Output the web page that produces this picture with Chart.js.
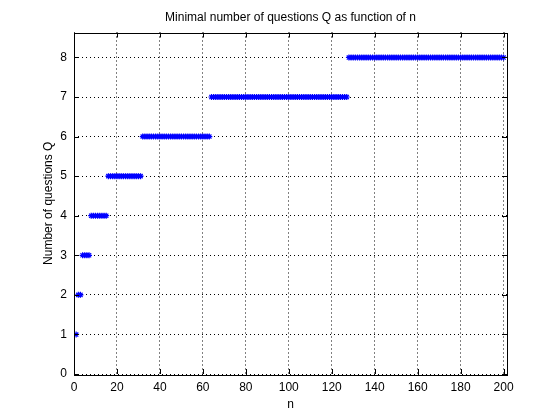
<!DOCTYPE html>
<html>
<head>
<meta charset="utf-8">
<script src="https://cdn.jsdelivr.net/npm/chart.js@4.4.1/dist/chart.umd.min.js"></script>
<style>
  html, body { margin: 0; padding: 0; background: #fff; }
  #chart { display: block; }
</style>
</head>
<body>
<canvas id="chart" width="560" height="420"></canvas>
<script>
// Q for n = 1..200
const qValues = [
  1,
  2, 2,
  3, 3, 3, 3,
  4, 4, 4, 4, 4, 4, 4, 4,
  5, 5, 5, 5, 5, 5, 5, 5, 5, 5, 5, 5, 5, 5, 5, 5,
  6, 6, 6, 6, 6, 6, 6, 6, 6, 6, 6, 6, 6, 6, 6, 6,
  6, 6, 6, 6, 6, 6, 6, 6, 6, 6, 6, 6, 6, 6, 6, 6,
  7, 7, 7, 7, 7, 7, 7, 7, 7, 7, 7, 7, 7, 7, 7, 7,
  7, 7, 7, 7, 7, 7, 7, 7, 7, 7, 7, 7, 7, 7, 7, 7,
  7, 7, 7, 7, 7, 7, 7, 7, 7, 7, 7, 7, 7, 7, 7, 7,
  7, 7, 7, 7, 7, 7, 7, 7, 7, 7, 7, 7, 7, 7, 7, 7,
  8, 8, 8, 8, 8, 8, 8, 8, 8, 8, 8, 8, 8, 8, 8, 8,
  8, 8, 8, 8, 8, 8, 8, 8, 8, 8, 8, 8, 8, 8, 8, 8,
  8, 8, 8, 8, 8, 8, 8, 8, 8, 8, 8, 8, 8, 8, 8, 8,
  8, 8, 8, 8, 8, 8, 8, 8, 8, 8, 8, 8, 8, 8, 8, 8,
  8, 8, 8, 8, 8, 8, 8, 8, 8
];
const nValues = qValues.map((q, i) => i + 1);

const xTicks = [0, 20, 40, 60, 80, 100, 120, 140, 160, 180, 200];
const yTicks = [0, 1, 2, 3, 4, 5, 6, 7, 8];

const font = "'Liberation Sans', Arial, Helvetica, sans-serif";

// matlab style box with inward ticks on all four sides
const boxPlugin = {
  id: 'box',
  afterDraw(chart) {
    const { ctx, chartArea: a, scales } = chart;
    ctx.save();
    ctx.strokeStyle = '#000';
    ctx.lineWidth = 1;
    ctx.beginPath();
    xTicks.forEach(v => {
      const px = Math.round(scales.x.getPixelForValue(v)) + 0.5;
      ctx.moveTo(px, a.bottom); ctx.lineTo(px, a.bottom - 5);
      ctx.moveTo(px, a.top); ctx.lineTo(px, a.top + 5);
    });
    yTicks.forEach(v => {
      const py = Math.round(scales.y.getPixelForValue(v)) + 0.5;
      ctx.moveTo(a.left, py); ctx.lineTo(a.left + 5, py);
      ctx.moveTo(a.right, py); ctx.lineTo(a.right - 5, py);
    });
    ctx.stroke();
    ctx.strokeRect(Math.round(a.left) + 0.5, Math.round(a.top) + 0.5,
      Math.round(a.right - a.left), Math.round(a.bottom - a.top));
    ctx.restore();
  }
};

new Chart(document.getElementById('chart'), {
  type: 'scatter',
  data: {
    datasets: [{
      label: 'Q',
      data: nValues.map((n, i) => ({ x: n, y: qValues[i] })),
      pointStyle: 'star',
      pointRadius: 3,
      borderWidth: 1.2,
      borderColor: '#0000ff',
      backgroundColor: '#0000ff',
      showLine: false
    }]
  },
  options: {
    responsive: false,
    animation: false,
    events: [],
    layout: { padding: { left: 0, right: 53, top: 0, bottom: 0 } },
    plugins: {
      legend: { display: false },
      tooltip: { enabled: false },
      title: {
        display: true,
        text: 'Minimal number of questions Q as function of n',
        fullSize: false,
        color: '#000',
        font: { family: font, size: 12, weight: 'normal' },
        padding: { top: 10, bottom: 8.1 }
      }
    },
    scales: {
      x: {
        type: 'linear',
        min: 0,
        max: 201.6,
        afterFit: s => { s.height = 46; },
        ticks: {
          stepSize: 20,
          includeBounds: false,
          color: '#000',
          padding: 6.5,
          maxRotation: 0,
          font: { family: font, size: 12 }
        },
        grid: { color: '#000', lineWidth: 1, drawTicks: false },
        border: { display: false, dash: [1, 3] },
        title: {
          display: true,
          text: 'n',
          color: '#000',
          font: { family: font, size: 12 },
          padding: { top: 0, bottom: 8 }
        }
      },
      y: {
        min: 0,
        max: 8.63,
        afterFit: s => { s.width = 74; },
        ticks: {
          stepSize: 1,
          includeBounds: false,
          color: '#000',
          padding: 7,
          font: { family: font, size: 12 }
        },
        grid: { color: '#000', lineWidth: 1, drawTicks: false },
        border: { display: false, dash: [1, 3] },
        title: {
          display: true,
          text: 'Number of questions Q',
          color: '#000',
          font: { family: font, size: 12 },
          padding: { top: 41.3, bottom: 0 }
        }
      }
    }
  },
  plugins: [boxPlugin]
});
</script>
</body>
</html>
